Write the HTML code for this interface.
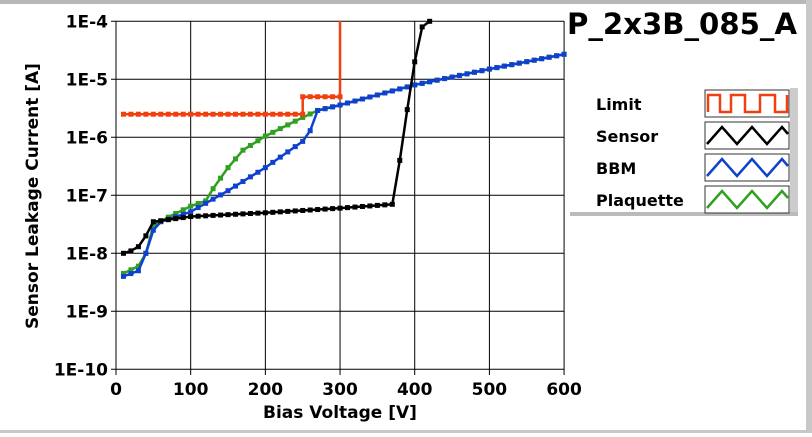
<!DOCTYPE html>
<html><head><meta charset="utf-8"><style>
body{margin:0;background:#fff;width:812px;height:433px;overflow:hidden;font-family:Tahoma,"DejaVu Sans",sans-serif}
</style></head><body>
<svg id="s" width="812" height="433" xmlns="http://www.w3.org/2000/svg" font-family="'DejaVu Sans',sans-serif" font-weight="bold">
<rect x="0" y="0" width="812" height="433" fill="#fff"/>
<rect x="0" y="0" width="812" height="4" fill="#b8b8b8"/>
<rect x="0" y="430" width="812" height="3" fill="#c8c8c8"/>
<rect x="806" y="0" width="6" height="433" fill="#c8c8c8"/>
<g id="grid" stroke="#000" stroke-width="1"></g>
<g id="lbl" font-size="17" fill="#000"></g>
<text x="340" y="418" font-size="17" text-anchor="middle">Bias Voltage [V]</text>
<text transform="translate(38,196) rotate(-90)" font-size="17" text-anchor="middle">Sensor Leakage Current [A]</text>
<text x="682" y="34" font-size="29" text-anchor="middle" textLength="230" lengthAdjust="spacingAndGlyphs">P_2x3B_085_A</text>
<g id="data"></g>
<rect x="570" y="88" width="226" height="128" fill="#fff"/>
<rect x="790" y="88" width="8" height="128" fill="#ccc"/>
<rect x="570" y="212" width="228" height="4" fill="#bbb"/>
<g font-size="16">
<text x="596" y="110">Limit</text><text x="596" y="142">Sensor</text><text x="596" y="174">BBM</text><text x="596" y="206">Plaquette</text>
</g>
<g fill="#fff" stroke="#333"><rect x="705" y="90" width="84" height="27"/><rect x="705" y="122" width="84" height="27"/><rect x="705" y="154" width="84" height="27"/><rect x="705" y="186" width="84" height="27"/></g>
<g fill="none" stroke-width="2.5">
<polyline stroke="#f04010" points="708,112 708,95 720,95 720,112 731,112 731,95 745,95 745,112 760,112 760,95 775,95 775,112 787,112 787,95"/>
<polyline stroke="#000" points="707,144 722,127 737,144 752,127 767,144 782,127 788,134"/>
<polyline stroke="#1040d0" points="707,176 722,159 737,176 752,159 767,176 782,159 788,166"/>
<polyline stroke="#30a020" points="707,208 722,191 737,208 752,191 767,208 782,191 788,198"/>
</g>
</svg>
<script>
var X=v=>116+v*0.7468, Y=l=>21.3+(-4-l)*58.0;
var g=document.getElementById('grid'),lb=document.getElementById('lbl'),d=document.getElementById('data');
var ns='http://www.w3.org/2000/svg';
function el(p,t,a,txt){var e=document.createElementNS(ns,t);for(var k in a)e.setAttribute(k,a[k]);if(txt)e.textContent=txt;p.appendChild(e);return e;}
for(var v=0;v<=600;v+=100){el(g,'line',{x1:X(v),x2:X(v),y1:21,y2:375});el(lb,'text',{x:X(v),y:395,'text-anchor':'middle'},''+v);}
for(var i=4;i<=10;i++){var y=Y(-i);el(g,'line',{x1:111,x2:564,y1:y,y2:y});el(lb,'text',{x:108,y:y+6,'text-anchor':'end'},'1E-'+i);}
function interp(pts,v){for(var i=0;i<pts.length-1;i++){if(v>=pts[i][0]&&v<=pts[i+1][0]){var t=(v-pts[i][0])/(pts[i+1][0]-pts[i][0]);var a=Math.log10(pts[i][1]),b=Math.log10(pts[i+1][1]);return a+t*(b-a);}}return null;}
function series(pts,col,vmax){var s='',m='';for(var v=10;v<=vmax;v+=10){var l=interp(pts,v);if(l===null)continue;if(l>-4)l=-4;var x=X(v),y=Y(l);s+=x+','+y+' ';m+='<rect x="'+(x-2.5)+'" y="'+(y-2.5)+'" width="5" height="5" fill="'+col+'"/>';}
d.insertAdjacentHTML('beforeend','<polyline fill="none" stroke="'+col+'" stroke-width="2.5" points="'+s+'"/>'+m);}
var common=[[270,2.9e-6],[300,3.6e-6],[400,8e-6],[500,1.5e-5],[600,2.7e-5]];
series([[10,4.5e-9],[30,6e-9],[40,1e-8],[50,3e-8],[70,4.2e-8],[100,6.5e-8],[120,8e-8],[130,1.3e-7],[150,3e-7],[170,6e-7],[200,1.05e-6],[250,2.2e-6]].concat(common),'#30a020',600);
series([[10,4e-9],[30,5e-9],[40,1e-8],[50,2.5e-8],[60,3.5e-8],[100,5.2e-8],[150,1.2e-7],[200,3e-7],[250,8.5e-7],[260,1.3e-6]].concat(common),'#1040d0',600);
series([[10,1e-8],[20,1.1e-8],[30,1.3e-8],[40,2e-8],[50,3.5e-8],[100,4.3e-8],[200,5e-8],[300,6e-8],[370,7e-8],[380,4e-7],[390,3e-6],[400,2e-5],[410,8e-5],[420,1.2e-4]],'#000',420);
(function(){var col='#f04010',s='',m='';for(var v=10;v<=250;v+=10){s+=X(v)+','+Y(Math.log10(2.5e-6))+' ';m+='<rect x="'+(X(v)-2.5)+'" y="'+(Y(Math.log10(2.5e-6))-2.5)+'" width="5" height="5" fill="'+col+'"/>';}
var y5=Y(Math.log10(5e-6));s+=X(250)+','+y5+' ';for(var v=250;v<=300;v+=10){s+=X(v)+','+y5+' ';m+='<rect x="'+(X(v)-2.5)+'" y="'+(y5-2.5)+'" width="5" height="5" fill="'+col+'"/>';}
s+=X(300)+',21';d.insertAdjacentHTML('beforeend','<polyline fill="none" stroke="'+col+'" stroke-width="2.5" points="'+s+'"/>'+m);})();
</script>
</body></html>
